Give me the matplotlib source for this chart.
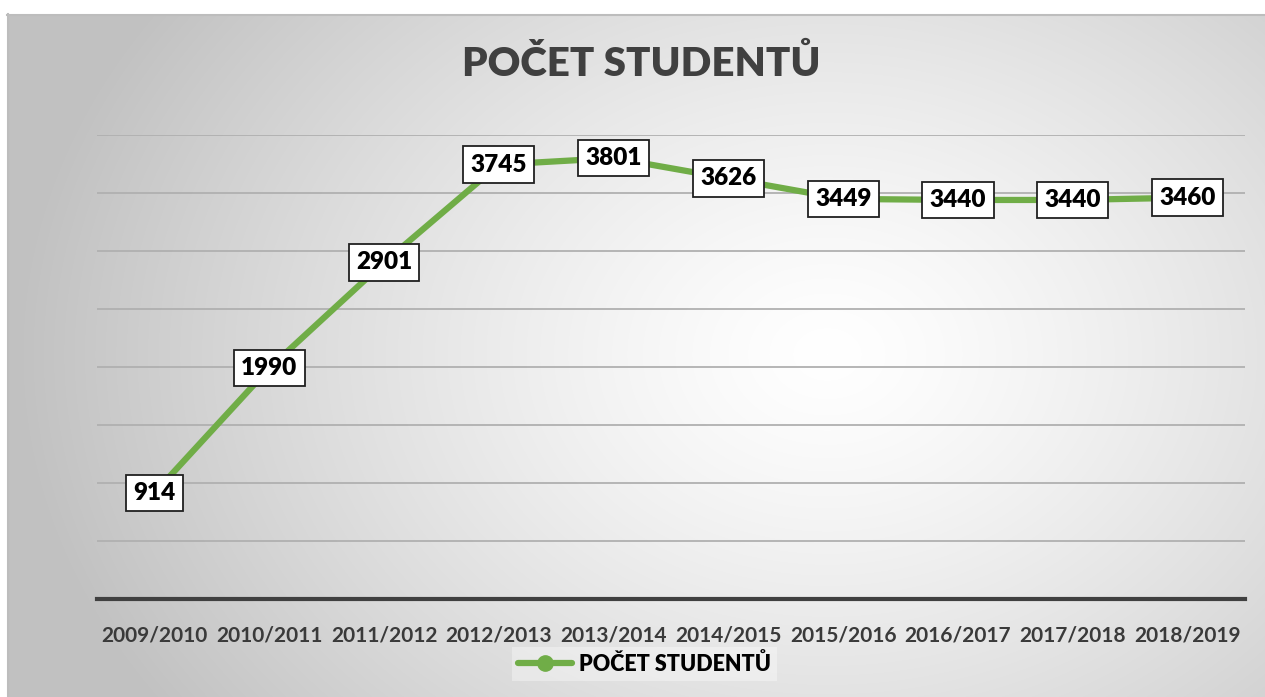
import matplotlib.pyplot as plt
import numpy as np

years = ["2009/2010", "2010/2011", "2011/2012", "2012/2013", "2013/2014",
         "2014/2015", "2015/2016", "2016/2017", "2017/2018", "2018/2019"]
students = [914, 1990, 2901, 3745, 3801, 3626, 3449, 3440, 3440, 3460]

plt.rcParams['font.family'] = ['Lato', 'DejaVu Sans']

W, H = 1265, 697
fig = plt.figure(figsize=(W / 100, H / 100), dpi=100)
fig.patch.set_facecolor('white')

# radial gradient background for chart area
bg = fig.add_axes([7 / W, 0, 1 - 7 / W, 1 - 14 / H])
bg.set_axis_off()
yy, xx = np.mgrid[0:683, 0:1258]
cx, cy = 820, 340
r = np.sqrt(((xx - cx) / 1.3) ** 2 + (yy - cy) ** 2)
r = np.clip(r / 620, 0, 1)
shade = 1.0 - 0.24 * r ** 1.3
bg.imshow(np.dstack([shade] * 3), aspect='auto', extent=[0, 1, 0, 1])
bg.set_xlim(0, 1)
bg.set_ylim(0, 1)
# thin border at top and left
bg.plot([0, 1], [0.999, 0.999], color='#bdbdbd', lw=1.5, transform=bg.transAxes, clip_on=False)
bg.plot([0.0005, 0.0005], [0, 1], color='#bdbdbd', lw=1.5, transform=bg.transAxes, clip_on=False)

ax = fig.add_axes([97 / W, (H - 599) / H, 1148 / W, 464 / H])
ax.patch.set_alpha(0)
x = np.arange(len(years))
ax.plot(x, students, color='#70ad47', lw=4.5, marker='o', markersize=11,
        label='POČET STUDENTŮ', zorder=3, solid_capstyle='round')
ax.set_xlim(-0.5, len(years) - 0.5)
ax.set_ylim(0, 4000)
ax.set_yticks(np.arange(500, 4001, 500))
ax.yaxis.grid(True, color='#b0b0b0', lw=1.3)
ax.set_axisbelow(True)
ax.tick_params(axis='y', left=False, labelleft=False)
ax.tick_params(axis='x', length=0, pad=19)
ax.set_xticks(x)
ax.set_xticklabels(years, fontsize=15, fontweight='bold', color='#3a3a3a')
for s in ['top', 'right', 'left']:
    ax.spines[s].set_visible(False)
ax.spines['bottom'].set_color('#404040')
ax.spines['bottom'].set_linewidth(3)

for xi, v in zip(x, students):
    ax.text(xi, v, str(v), ha='center', va='center', fontsize=17.5,
            fontweight='heavy', color='black', zorder=5,
            bbox=dict(boxstyle='square,pad=0.3', facecolor='white',
                      edgecolor='#202020', lw=1.3))

fig.text(641 / W, 1 - 64 / H, 'POČET STUDENTŮ', ha='center', va='center',
         fontsize=29, fontweight='heavy', color='#404040')

leg = ax.legend(loc='center', bbox_to_anchor=(0.477, -0.14), frameon=True,
                prop={'weight': 'heavy', 'size': 15.5},
                handlelength=2.5, handletextpad=0.3, borderpad=0.3, fancybox=False)
leg.get_frame().set_facecolor('white')
leg.get_frame().set_alpha(0.35)
leg.get_frame().set_edgecolor('none')
for t in leg.get_texts():
    t.set_color('black')

fig.savefig('out.png', dpi=100)
